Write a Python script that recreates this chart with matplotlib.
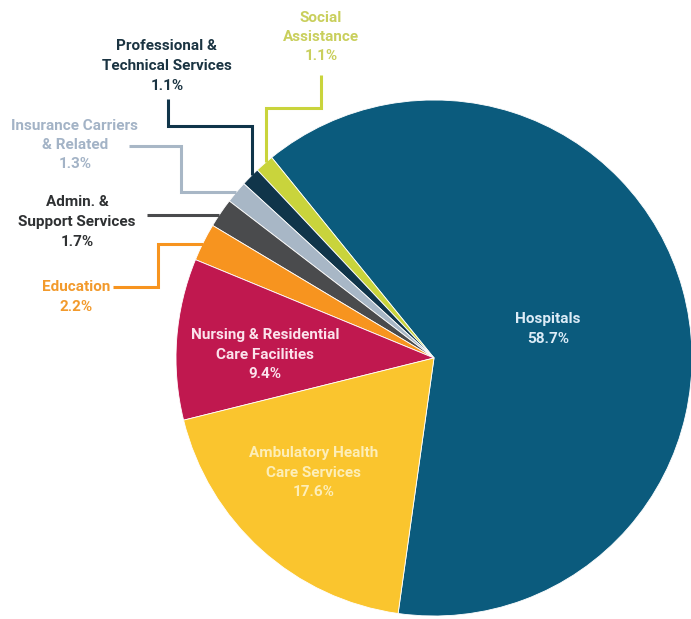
import math
import matplotlib
matplotlib.use("Agg")
import matplotlib.pyplot as plt

# Share of employment by health-care sub-sector
categories = [
    "Hospitals",
    "Social Assistance",
    "Professional & Technical Services",
    "Insurance Carriers & Related",
    "Admin. & Support Services",
    "Education",
    "Nursing & Residential Care Facilities",
    "Ambulatory Health Care Services",
]
shares = [58.7, 1.1, 1.1, 1.3, 1.7, 2.2, 9.4, 17.6]
label_texts = [
    "Hospitals",
    "Social\nAssistance",
    "Professional &\nTechnical Services",
    "Insurance Carriers\n& Related",
    "Admin. &\nSupport Services",
    "Education",
    "Nursing & Residential\nCare Facilities",
    "Ambulatory Health\nCare Services",
]
colors = ["#0b5b7d", "#c9d43c", "#10354a", "#a8b7c6",
          "#4a4b4d", "#f7941f", "#c0184f", "#fac52e"]
text_colors = ["#dcecf7", "#c9cf5c", "#1b3442", "#a3b3c6",
               "#2f3133", "#f29a2c", "#fbe3ec", "#fdeeb8"]

W, H = 691, 619
plt.rcParams["font.family"] = ["Roboto", "DejaVu Sans"]

fig = plt.figure(figsize=(W / 100, H / 100), dpi=100)
ax = fig.add_axes([0, 0, 1, 1])

cx, cy, r = 434, H - 358, 258
wedges, _ = ax.pie(shares, colors=colors, startangle=-98, counterclock=True,
                   center=(cx, cy), radius=r,
                   wedgeprops=dict(edgecolor="white", linewidth=0.6))
ax.set_xlim(0, W)
ax.set_ylim(0, H)
ax.set_aspect("equal")
ax.axis("off")

FS = 11


def label(i, x, y, size=FS):
    ax.text(x, H - y, f"{label_texts[i]}\n{shares[i]:.1f}%", ha="center",
            va="center", color=text_colors[i], fontsize=size,
            fontweight="bold", linespacing=1.5)


# labels inside the large slices
label(0, 548, 329)
label(6, 265, 355)
label(7, 314, 473)

# outside labels
label(1, 321, 37)
label(2, 167, 66)
label(3, 75, 145)
label(4, 77, 222)
label(5, 76, 297)


def rim_y(x):
    return cy + math.sqrt(r ** 2 - (x - cx) ** 2)


def rim_x(y):
    return cx - math.sqrt(r ** 2 - (y - cy) ** 2)


def leader(pts, color, end):
    xs = [p[0] for p in pts]
    ys = [H - p[1] for p in pts]
    if end == "v":
        xs.append(xs[-1])
        ys.append(rim_y(xs[-1]))
    else:
        ys.append(ys[-1])
        xs.append(rim_x(ys[-1]))
    ax.plot(xs, ys, color=color, lw=2.2, solid_joinstyle="miter",
            solid_capstyle="butt")


leader([(321, 75), (321, 108), (266, 108)], colors[1], "v")
leader([(168, 99), (168, 126), (252, 126)], colors[2], "v")
leader([(129, 146), (181, 146), (181, 192)], colors[3], "h")
leader([(147, 215)], colors[4], "h")
leader([(113, 287), (158, 287), (158, 244)], colors[5], "h")

fig.savefig("out.png", dpi=100, facecolor="white")
